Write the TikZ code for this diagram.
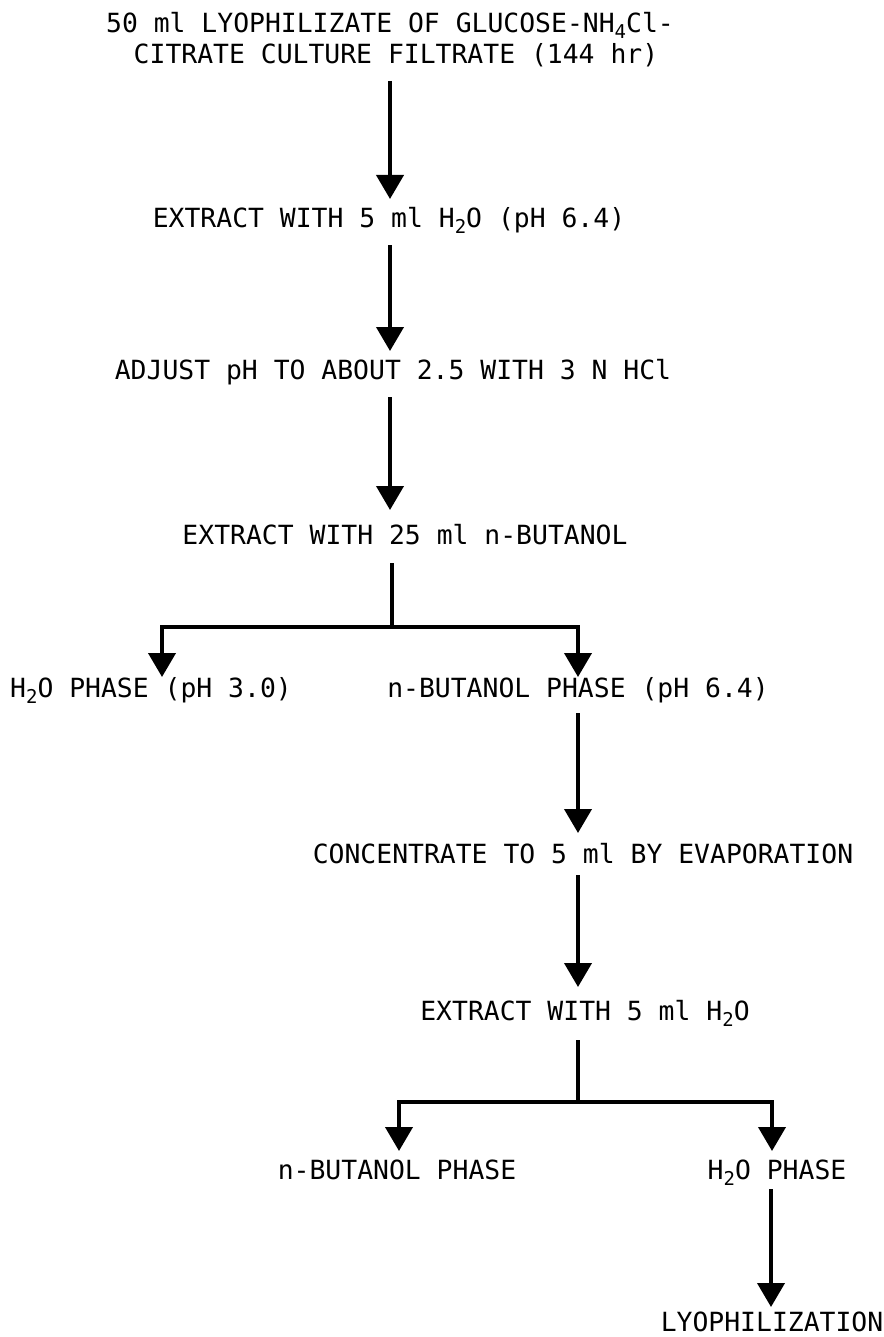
\documentclass[tikz,border=0pt]{standalone}
\usepackage{fontspec}
\setmonofont{DejaVu Sans Mono}
\usepackage{tikz}
\usetikzlibrary{arrows.meta, calc, positioning}

\newcommand{\lowidx}[1]{\raisebox{-0.4ex}{\fontsize{9.5}{9.5}\selectfont #1}}

\begin{document}
\begin{tikzpicture}[x=0.5pt, y=-0.5pt,
	stage/.style={font=\ttfamily\fontsize{13.2}{15}\selectfont, inner sep=0pt, text height=9.6pt, text depth=0pt},
	flow/.style={line width=2pt, -{Triangle[width=13.5pt, length=12pt]}, shorten <=8.5pt, shorten >=4.5pt},
	rule/.style={line width=2pt}]
	
	\useasboundingbox (0,0) rectangle (883,1337);
	
	%// columns of the arrows
	\coordinate (colA) at (390,0);
	\coordinate (colB) at (578,0);
	\coordinate (colC) at (771,0);
	\coordinate (forkA) at (392,627);
	\coordinate (forkB) at (578,1102);
	
	%// steps
	\node [stage] (src) at (390,23) {50 ml LYOPHILIZATE OF GLUCOSE-NH\lowidx{4}Cl-};
	\node [stage] (srcb) at (396,54) {CITRATE CULTURE FILTRATE (144 hr)};
	\node [stage] (ext1) at (389,218) {EXTRACT WITH 5 ml H\lowidx{2}O (pH 6.4)};
	\node [stage] (adj) at (393,370) {ADJUST pH TO ABOUT 2.5 WITH 3 N HCl};
	\node [stage] (ext25) at (405,535) {EXTRACT WITH 25 ml n-BUTANOL};
	\node [stage] (aq) at (151,688) {H\lowidx{2}O PHASE (pH 3.0)};
	\node [stage] (bu) at (578,688) {n-BUTANOL PHASE (pH 6.4)};
	\node [stage] (conc) at (583,854) {CONCENTRATE TO 5 ml BY EVAPORATION};
	\node [stage] (ext5) at (585,1011) {EXTRACT WITH 5 ml H\lowidx{2}O};
	\node [stage] (bub) at (397,1170) {n-BUTANOL PHASE};
	\node [stage] (aqb) at (777,1170) {H\lowidx{2}O PHASE};
	\node [stage] (lyo) at (772,1322) {LYOPHILIZATION};
	
	%// straight arrows
	\draw [flow] (srcb.south -| colA) -- (ext1.north -| colA);
	\draw [flow] (ext1.south -| colA) -- (adj.north -| colA);
	\draw [flow, shorten >=7.5pt] (adj.south -| colA) -- (ext25.north -| colA);
	\draw [flow, shorten <=7.5pt, shorten >=5.5pt] (bu.south -| colB) -- (conc.north -| colB);
	\draw [flow, shorten <=5.5pt, shorten >=7pt] (conc.south -| colB) -- (ext5.north -| colB);
	\draw [flow, shorten <=4.5pt, shorten >=2.5pt] (aqb.south -| colC) -- (lyo.north -| colC);
	
	%// first split
	\draw [rule, shorten <=9pt] (ext25.south -| forkA) -- (forkA);
	\draw [flow, shorten <=0pt, shorten >=0.5pt] (forkA) -| ([xshift=5.5pt]aq.north);
	\draw [flow, shorten <=0pt, shorten >=0.5pt] (forkA) -| (bu.north);
	
	%// second split
	\draw [rule, shorten <=9.5pt] (ext5.south -| forkB) -- (forkB);
	\draw [flow, shorten <=0pt] (forkB) -| ([xshift=1pt]bub.north);
	\draw [flow, shorten <=0pt] (forkB) -| ([xshift=-2.5pt]aqb.north);
	
\end{tikzpicture}
\end{document}
